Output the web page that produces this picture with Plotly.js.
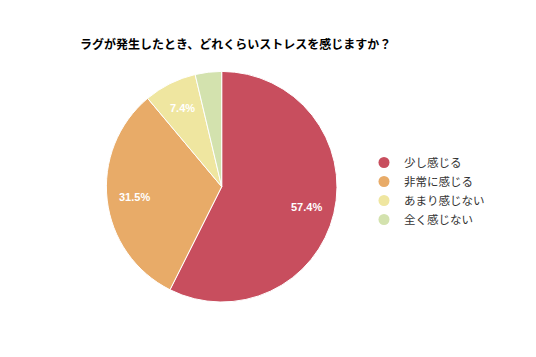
<!DOCTYPE html>
<html>
<head>
<meta charset="utf-8">
<script src="https://cdn.plot.ly/plotly-3.0.1.min.js"></script>
<style>html,body{margin:0;padding:0;background:#fff;}#chart{width:536px;height:357px;}</style>
</head>
<body>
<div id="chart"></div>
<script>
const categories = ["少し感じる", "非常に感じる", "あまり感じない", "全く感じない"];
const values = [57.4, 31.5, 7.4, 3.7];
const colors = ["#C84E5E", "#E8AB68", "#EFE6A0", "#D3E2AE"];
const shownLabels = ["57.4%", "31.5%", "7.4%", ""];
const titleText = "ラグが発生したとき、どれくらいストレスを感じますか？";

const W = 536, H = 357;
const domX = [0.1985, 0.6287], domY = [0.154, 0.800];

const pie = {
  type: "pie",
  labels: categories,
  values: values,
  textinfo: "none",
  sort: false,
  direction: "clockwise",
  rotation: 0,
  marker: {colors: colors, line: {color: "#ffffff", width: 1}},
  domain: {x: domX, y: domY},
  showlegend: false,
  hoverinfo: "label+percent"
};

const legendTraces = categories.map((c, i) => ({
  type: "scatter",
  mode: "markers",
  x: [null], y: [null],
  name: c,
  marker: {color: colors[i], size: 11, symbol: "circle"},
  showlegend: true,
  hoverinfo: "skip"
}));

// label positions derived from the data (mid-angle of each slice)
const cxPx = (domX[0] + domX[1]) / 2 * W;
const cyPx = (1 - (domY[0] + domY[1]) / 2) * H;
const rPx = Math.min((domX[1] - domX[0]) * W, (domY[1] - domY[0]) * H) / 2;
const total = values.reduce((a, b) => a + b, 0);
let cum = 0;
const annotations = [];
values.forEach((v, i) => {
  const mid = (cum + v / 2) / total * 2 * Math.PI;
  cum += v;
  if (!shownLabels[i]) return;
  const rr = rPx * 0.76;
  const px = cxPx + rr * Math.sin(mid);
  const py = cyPx - rr * Math.cos(mid);
  annotations.push({
    text: "<b>" + shownLabels[i] + "</b>",
    x: px / W, y: 1 - py / H, xref: "paper", yref: "paper",
    xanchor: "center", yanchor: "middle", showarrow: false,
    font: {family: "Liberation Sans, Arial, sans-serif", size: 11, color: "#ffffff"}
  });
});

const layout = {
  width: W, height: H,
  margin: {l: 0, r: 0, t: 0, b: 0},
  paper_bgcolor: "#ffffff",
  plot_bgcolor: "#ffffff",
  title: {
    text: "<b>" + titleText + "</b>",
    font: {family: "Noto Sans CJK JP, sans-serif", size: 12, color: "#000000"},
    x: 80/W, xanchor: "left", xref: "paper",
    y: 1 - 45/H, yanchor: "middle", yref: "paper"
  },
  xaxis: {visible: false, range: [0, 1]},
  yaxis: {visible: false, range: [0, 1]},
  legend: {
    x: 364/W, xanchor: "left",
    y: 1 - 148/H, yanchor: "top",
    font: {family: "Noto Sans CJK JP, sans-serif", size: 11.5, color: "#333333"},
    bgcolor: "rgba(0,0,0,0)",
    traceorder: "normal",
    tracegroupgap: 0
  },
  annotations: annotations,
  showlegend: true
};

Plotly.newPlot("chart", [pie].concat(legendTraces), layout, {displayModeBar: false, staticPlot: true});
</script>
</body>
</html>
